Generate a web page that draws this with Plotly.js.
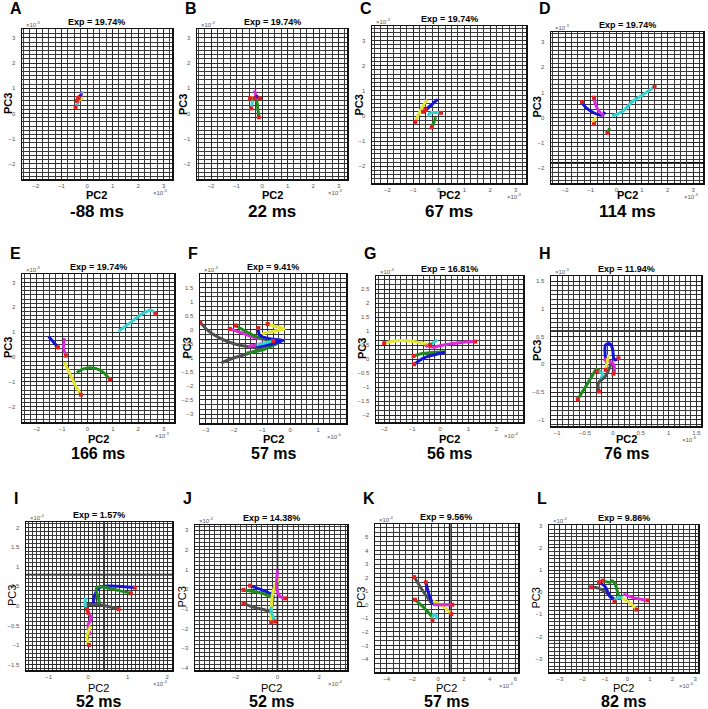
<!DOCTYPE html>
<html lang="en">
<head>
  <meta charset="UTF-8">
  <title>PC2 / PC3 trajectories</title>
  <script src="https://cdn.plot.ly/plotly-3.0.1.min.js"></script>
  <style>
    body { margin: 0; background: #fff; }
    #plot { width: 708px; height: 709px; }
  </style>
</head>
<body>
  <div id="plot"></div>

  <script>
    // panel labels, explained variance and latency under each panel
    const panelLetters = ['A', 'B', 'C', 'D', 'E', 'F', 'G', 'H', 'I', 'J', 'K', 'L'];
    const expValues = ['19.74', '19.74', '19.74', '19.74', '19.74', '9.41', '16.81', '11.94', '1.57', '14.38', '9.56', '9.86'];
    const latencies = ['-88 ms', '22 ms', '67 ms', '114 ms', '166 ms', '57 ms', '56 ms', '76 ms', '52 ms', '52 ms', '57 ms', '82 ms'];
    const xExponents = ['-3', '-3', '-3', '-3', '-3', '-4', '-4', '-3', '-4', '-4', '-4', '-4'];
    const yExponents = ['-3', '-3', '-3', '-3', '-3', '-3', '-4', '-3', '-4', '-4', '-4', '-4'];

    // trajectories: first point of each one is the (red) start point
    const trajA = [
      { key: 'cyan', x: [-0.45, -0.3, -0.18], y: [0.25, 0.55, 0.88] },
      { key: 'magenta', x: [-0.33, -0.25, -0.2], y: [0.6, 0.7, 0.82] },
      { key: 'yellow', x: [-0.4, -0.28, -0.15], y: [0.5, 0.55, 0.62] },
      { key: 'blue', x: [-0.35, -0.22], y: [0.62, 0.75] }
    ];
    const trajB = [
      { key: 'green', x: [-0.13, -0.16, -0.2, -0.22], y: [-0.15, 0.15, 0.45, 0.65] },
      { key: 'magenta', x: [-0.08, -0.2, -0.25, -0.29], y: [0.6, 0.62, 0.75, 0.92] },
      { key: 'blue', x: [-0.3, -0.2, -0.15], y: [0.6, 0.68, 0.62] },
      { key: 'cyan', x: [-0.42, -0.4, -0.37], y: [0.2, 0.35, 0.52] },
      { key: 'yellow', x: [-0.47, -0.4, -0.33], y: [0.6, 0.63, 0.6] }
    ];
    const trajC = [
      { key: 'yellow', x: [-0.91, -0.8, -0.65, -0.45], y: [-0.23, 0.05, 0.35, 0.64] },
      { key: 'magenta', x: [-0.61, -0.5, -0.38, -0.26], y: [0.17, 0.25, 0.36, 0.48] },
      { key: 'blue', x: [-0.52, -0.35, -0.2, -0.04], y: [0.24, 0.38, 0.52, 0.66] },
      { key: 'cyan', x: [0.09, -0.05, -0.3, -0.37, -0.39], y: [0.13, 0.14, 0.14, 0.1, -0.03] },
      { key: 'green', x: [-0.27, -0.22, -0.15, -0.13], y: [-0.45, -0.32, -0.15, -0.05] }
    ];
    const trajD = [
      { key: 'cyan', x: [1.49, 1.0, 0.61, 0.22, -0.17], y: [1.22, 0.89, 0.62, 0.23, 0.07] },
      { key: 'blue', x: [-1.34, -1.21, -0.88, -0.58, -0.43], y: [0.62, 0.42, 0.19, 0.09, 0.21] },
      { key: 'magenta', x: [-0.87, -0.79, -0.62, -0.49], y: [0.79, 0.45, 0.19, 0.09] },
      { key: 'yellow', x: [-0.87, -0.92, -0.88, -0.8], y: [-0.26, -0.2, -0.1, 0.02] },
      { key: 'green', x: [-0.35, -0.3, -0.27], y: [-0.61, -0.52, -0.42] }
    ];
    const trajE = [
      { key: 'cyan', x: [2.68, 2.52, 2.1, 1.65, 1.22], y: [1.74, 1.88, 1.7, 1.35, 1.03] },
      { key: 'blue', x: [-1.16, -1.3, -1.43, -1.53], y: [0.38, 0.55, 0.7, 0.83] },
      { key: 'magenta', x: [-0.85, -0.92, -0.94, -0.9], y: [0.05, 0.25, 0.43, 0.75] },
      { key: 'yellow', x: [-0.26, -0.45, -0.61, -0.78, -0.92], y: [-1.52, -1.2, -0.85, -0.5, -0.21] },
      { key: 'green', x: [0.89, 0.6, 0.37, 0, -0.25, -0.42], y: [-0.91, -0.6, -0.48, -0.44, -0.52, -0.64] }
    ];
    const trajF = [
      { key: 'gray', x: [-3.2, -2.9, -2.5, -2.0, -1.5, -1.0, -0.6, -1.0, -1.5, -2.0, -2.45], y: [0.25, -0.05, -0.3, -0.5, -0.6, -0.6, -0.45, -0.65, -0.85, -1.0, -1.18] },
      { key: 'magenta', x: [-2.15, -1.7, -1.2, -0.6, -1.0, -1.5], y: [0.03, -0.12, -0.3, -0.42, -0.5, -0.6] },
      { key: 'green', x: [-1.94, -1.6, -1.2, -0.7, -0.4, -0.7, -1.1, -1.55], y: [0.15, -0.05, -0.25, -0.4, -0.45, -0.6, -0.75, -0.83] },
      { key: 'blue', x: [-1.13, -1.08, -0.7, -0.25, -0.6, -1.2], y: [0.06, -0.2, -0.33, -0.38, -0.5, -0.6] },
      { key: 'yellow', x: [-0.8, -0.55, -0.2, -0.55, -1.0], y: [0.2, 0.12, 0.03, -0.05, -0.15] },
      { key: 'cyan', x: [-0.6, -0.9, -1.2], y: [-0.4, -0.48, -0.55] }
    ];
    const trajG = [
      { key: 'yellow', x: [-2.0, -1.55, -0.95, -0.48, -0.3], y: [0.57, 0.66, 0.63, 0.54, 0.54] },
      { key: 'magenta', x: [1.25, 0.71, 0.12, -0.24, -0.42, -0.54], y: [0.63, 0.59, 0.51, 0.43, 0.47, 0.47] },
      { key: 'cyan', x: [-0.36, -0.2, -0.1], y: [0.51, 0.62, 0.69] },
      { key: 'green', x: [-0.95, -0.6, -0.12, 0.18], y: [0.12, 0.21, 0.25, 0.27] },
      { key: 'blue', x: [-0.93, -0.6, -0.24, 0.18], y: [-0.18, 0.04, 0.15, 0.25] }
    ];
    const trajH = [
      { key: 'green', x: [-0.63, -0.47, -0.38, -0.29, -0.23], y: [-0.63, -0.37, -0.22, -0.09, -0.13] },
      { key: 'cyan', x: [-0.29, -0.19, -0.23], y: [-0.13, -0.16, -0.28] },
      { key: 'gray', x: [-0.25, -0.26, -0.14, -0.05, -0.03], y: [-0.49, -0.34, -0.22, -0.04, 0.05] },
      { key: 'blue', x: [0.1, 0.03, -0.01, -0.05, -0.13, -0.11], y: [0.11, 0.08, 0.29, 0.37, 0.35, -0.01] },
      { key: 'magenta', x: [0.01, 0.03, 0, -0.17], y: [-0.17, -0.1, 0.02, 0.09] },
      { key: 'yellow', x: [-0.13, -0.09, -0.07], y: [-0.1, 0.11, 0.17] }
    ];
    const trajI = [
      { key: 'blue', x: [1.18, 0.55, 0.29, 0.17, 0.13], y: [0.47, 0.51, 0.47, 0.28, 0] },
      { key: 'green', x: [1.08, 0.63, 0.29, 0.21, 0.28, 0.29], y: [0.32, 0.43, 0.49, 0.45, 0.11, 0.01] },
      { key: 'gray', x: [0.77, 0.29, -0.04], y: [-0.08, 0.03, 0.04] },
      { key: 'cyan', x: [-0.03, -0.08, -0.06], y: [-0.08, 0.03, 0.21] },
      { key: 'magenta', x: [0, 0.08, 0, 0.06], y: [-0.17, -0.31, -0.48, -0.74] },
      { key: 'yellow', x: [0.02, -0.03, 0.04, 0.06], y: [-0.99, -0.78, -0.57, -0.5] }
    ];
    const trajJ = [
      { key: 'blue', x: [-1.31, -0.75, -0.27], y: [0.19, -0.03, -0.25] },
      { key: 'green', x: [-1.63, -1.07, -0.59, -0.35, -0.2, 0.05], y: [-0.03, -0.12, -0.25, -0.37, -0.1, 0.4] },
      { key: 'gray', x: [-1.63, -1.07, -0.59, -0.35, -0.27, -0.19], y: [-0.71, -0.93, -1.05, -1.14, -0.88, -0.29] },
      { key: 'yellow', x: [-0.3, -0.3, -0.24, -0.11, 0.1], y: [-1.68, -1.14, -0.29, 0.22, 0.56] },
      { key: 'magenta', x: [0.37, 0.13, -0.03, 0], y: [-0.46, -0.37, 0.05, 0.98] },
      { key: 'cyan', x: [-0.11, -0.3, -0.3], y: [-1.64, -1.1, -0.88] }
    ];
    const trajK = [
      { key: 'gray', x: [-1.86, -1.16, -0.52], y: [2.04, 0.98, 0.12] },
      { key: 'blue', x: [-0.95, -0.7, -0.39], y: [1.65, 0.74, 0] },
      { key: 'green', x: [-1.8, -1.03, -0.39], y: [0.37, -0.29, -0.98] },
      { key: 'cyan', x: [-0.44, -0.34, -0.08, -0.2], y: [-1.15, -0.69, -0.93, -1.0] },
      { key: 'yellow', x: [1.03, 0.39, -0.39], y: [-0.69, -0.12, 0.29] },
      { key: 'magenta', x: [1.11, 0.3, -0.39], y: [0, 0, 0] }
    ];
    const trajL = [
      { key: 'gray', x: [-1.61, -1.29, -0.92, -0.67], y: [0.22, 0.18, -0.04, -0.27] },
      { key: 'blue', x: [-1.26, -0.99, -0.77, -0.58], y: [0.45, 0.25, -0.2, -0.3] },
      { key: 'green', x: [-1.1, -0.77, -0.67, -0.52, -0.4, -0.25], y: [0.52, 0.45, 0.51, 0.3, -0.12, -0.27] },
      { key: 'cyan', x: [-0.58, -0.47, -0.22], y: [-0.42, -0.27, -0.24] },
      { key: 'magenta', x: [0.9, 0.34, -0.18], y: [-0.37, -0.27, -0.09] },
      { key: 'yellow', x: [0.41, 0.12, -0.25], y: [-0.79, -0.49, -0.27] }
    ];
    const allTraj = [trajA, trajB, trajC, trajD, trajE, trajF, trajG, trajH, trajI, trajJ, trajK, trajL];

    const colors = {
      blue: '#1414d8', magenta: '#dc28dc', yellow: '#e4e432', green: '#1e8a1e',
      cyan: '#32d2d2', gray: '#505050'
    };

    // plot boxes in page pixels [left, top, right, bottom], axis ranges, grid steps,
    // and the few heavier grid lines seen in some panels
    const panels = [
      { box: [22, 29, 172, 179], xr: [-2.55, 3.33], yr: [-2.6, 3.35], xd: 1, yd: 1, xm: 0.25, ym: 1 / 6 },
      { box: [197, 29, 347, 179], xr: [-2.55, 3.33], yr: [-2.6, 3.35], xd: 1, yd: 1, xm: 0.25, ym: 1 / 6 },
      { box: [372, 26, 526, 183], xr: [-2.6, 3.4], yr: [-2.66, 3.58], xd: 1, yd: 1, xm: 0.25, ym: 1 / 6 },
      { box: [551, 32, 703, 183], xr: [-2.55, 3.38], yr: [-2.6, 3.4], xd: 1, yd: 1, xm: 0.25, ym: 1 / 6, hy: -1.8 },
      { box: [22, 274, 174, 422], xr: [-2.58, 3.41], yr: [-2.62, 3.34], xd: 1, yd: 1, xm: 0.25, ym: 1 / 6 },
      { box: [200, 274, 346, 423], xr: [-3.21, 1.99], yr: [-3.32, 1.98], xd: 1, yd: 0.5, xm: 0.2, ym: 0.5 / 3 },
      { box: [376, 276, 523, 422], xr: [-2.29, 2.95], yr: [-2.24, 2.97], xd: 1, yd: 0.5, xm: 0.2, ym: 0.5 / 3 },
      { box: [551, 276, 701, 426], xr: [-1.11, 1.58], yr: [-1.11, 1.59], xd: 0.5, yd: 0.5, xm: 0.1, ym: 0.5 / 6, hy: 0.6 },
      { box: [26, 522, 172, 670], xr: [-1.57, 2.12], yr: [-1.63, 2.14], xd: 1, yd: 0.5, xm: 0.1, ym: 0.1, vx: 0.4, hy: 0.8 },
      { box: [195, 525, 347, 670], xr: [-3.95, 3.33], yr: [-4.1, 3.27], xd: 2, yd: 1, xm: 0.25, ym: 0.2, vx: 0 },
      { box: [375, 524, 518, 672], xr: [-4.9, 6.2], yr: [-4.96, 5.95], xd: 2, yd: 1, xm: 0.5, ym: 1 / 3, vx: 0.9 },
      { box: [549, 525, 698, 672], xr: [-3.48, 3.13], yr: [-3.6, 3.03], xd: 1, yd: 1, xm: 0.25, ym: 1 / 6 }
    ];
    const letterY = [9, 253, 498];
    const pc2Y = [195, 439, 688];
    const msY = [211, 453, 701];
    const msSize = [17, 16, 16];

    const W = 708, H = 709;
    const FONT = 'Liberation Sans, Arial, sans-serif';
    const px = v => v / W;
    const py = v => 1 - v / H;

    const data = [];
    const layout = {
      width: W, height: H,
      margin: { l: 0, r: 0, t: 0, b: 0 },
      paper_bgcolor: '#fff', plot_bgcolor: '#fff',
      showlegend: false,
      font: { family: FONT },
      annotations: [],
      shapes: []
    };

    function ann(text, x, y, size, opts) {
      layout.annotations.push(Object.assign({
        text: text, x: px(x), y: py(y), xref: 'paper', yref: 'paper',
        showarrow: false, xanchor: 'center', yanchor: 'middle',
        font: { family: FONT, size: size, color: '#000' }
      }, opts || {}));
    }

    panels.forEach((p, i) => {
      const n = i === 0 ? '' : String(i + 1);
      const [l, t, r, b] = p.box;
      const row = Math.floor(i / 4);
      const axisBase = {
        showline: true, mirror: true, linecolor: '#111', linewidth: 1.5,
        showgrid: true, gridcolor: '#2a2a2a', gridwidth: 1,
        zeroline: false, ticks: '', tick0: 0,
        tickfont: { family: FONT, size: 6, color: '#555' },
        fixedrange: true
      };
      layout['xaxis' + n] = Object.assign({}, axisBase, {
        domain: [px(l), px(r)], range: p.xr, dtick: p.xd,
        anchor: 'y' + n, ticklabelstandoff: 0,
        minor: { dtick: p.xm, tick0: 0, showgrid: true, gridcolor: '#3a3a3a', gridwidth: 1 }
      });
      layout['yaxis' + n] = Object.assign({}, axisBase, {
        domain: [py(b), py(t)], range: p.yr, dtick: p.yd,
        anchor: 'x' + n, ticklabelstandoff: 4,
        minor: { dtick: p.ym, tick0: 0, showgrid: true, gridcolor: '#3a3a3a', gridwidth: 1 }
      });

      // heavier grid lines
      if (p.vx !== undefined) {
        layout.shapes.push({ type: 'line', xref: 'x' + n, yref: 'y' + n + ' domain', x0: p.vx, x1: p.vx, y0: 0, y1: 1, line: { color: '#000', width: 1.6 }, layer: 'below' });
      }
      if (p.hy !== undefined) {
        layout.shapes.push({ type: 'line', xref: 'x' + n + ' domain', yref: 'y' + n, x0: 0, x1: 1, y0: p.hy, y1: p.hy, line: { color: '#000', width: 1.6 }, layer: 'below' });
      }

      const starts = { x: [], y: [] };
      allTraj[i].forEach(tr => {
        data.push({
          x: tr.x, y: tr.y, xaxis: 'x' + n, yaxis: 'y' + n,
          type: 'scatter', mode: 'lines',
          line: { color: colors[tr.key], width: 3, shape: 'spline' },
          hoverinfo: 'skip'
        });
        starts.x.push(tr.x[0]);
        starts.y.push(tr.y[0]);
      });
      data.push({
        x: starts.x, y: starts.y, xaxis: 'x' + n, yaxis: 'y' + n,
        type: 'scatter', mode: 'markers',
        marker: { color: '#e02020', size: 4, symbol: 'square' },
        hoverinfo: 'skip'
      });

      // texts round the panel
      const cx = (l + r) / 2;
      const cy = (t + b) / 2;
      const bold = row < 2;
      ann('<b>' + panelLetters[i] + '</b>', l - 14, letterY[row], 16, { xanchor: 'left' });
      ann('<b>Exp = ' + expValues[i] + '%</b>', cx, t - 7, 9);
      ann(bold ? '<b>PC2</b>' : 'PC2', cx, pc2Y[row], 11);
      ann(bold ? '<b>PC3</b>' : 'PC3', l - 14, cy, 11, { textangle: -90 });
      ann('<b>' + latencies[i] + '</b>', cx, msY[row], msSize[row]);
      ann('×10<sup>' + yExponents[i] + '</sup>', l + 2, t - 5, 6, { xanchor: 'left', font: { family: FONT, size: 6, color: '#555' } });
      ann('×10<sup>' + xExponents[i] + '</sup>', r - 2, b + 13, 6, { xanchor: 'right', font: { family: FONT, size: 6, color: '#555' } });
    });

    Plotly.newPlot('plot', data, layout, { staticPlot: true });
  </script>
</body>
</html>
